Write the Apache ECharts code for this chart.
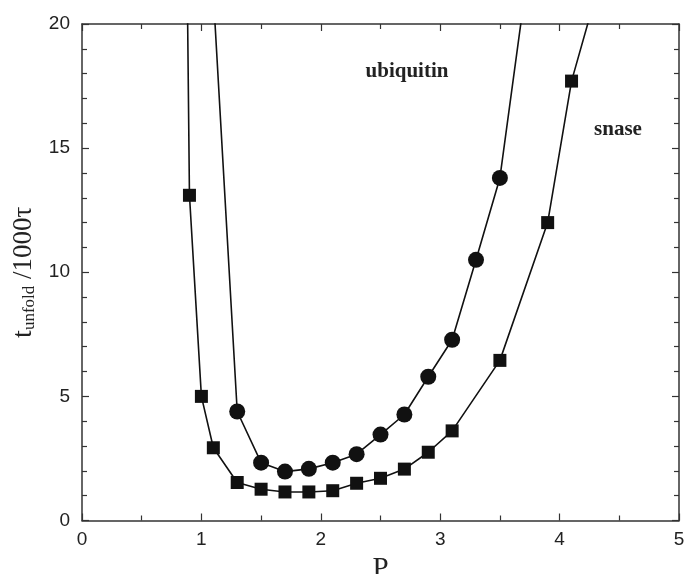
<!DOCTYPE html>
<html><head><meta charset="utf-8">
<script src="https://cdn.jsdelivr.net/npm/echarts@6/dist/echarts.min.js"></script>
<style>html,body{margin:0;padding:0;background:#fff}#c{width:685px;height:574px}</style>
</head><body><div id="c"></div>
<script>
// snase (squares); first and last points lie above the plotted range (line continues off-chart)
const snaseP = [0.8, 0.9, 1.0, 1.1, 1.3, 1.5, 1.7, 1.9, 2.1, 2.3, 2.5, 2.7, 2.9, 3.1, 3.5, 3.9, 4.1, 4.3];
const snaseT = [59, 13.1, 5.0, 2.93, 1.53, 1.26, 1.15, 1.15, 1.2, 1.5, 1.7, 2.07, 2.75, 3.61, 6.45, 12.0, 17.7, 21.1];
// ubiquitin (circles)
const ubiP = [1.1, 1.3, 1.5, 1.7, 1.9, 2.1, 2.3, 2.5, 2.7, 2.9, 3.1, 3.3, 3.5, 3.7];
const ubiT = [21.2, 4.39, 2.33, 1.97, 2.08, 2.33, 2.67, 3.46, 4.27, 5.79, 7.28, 10.5, 13.8, 20.9];
const xTicks = [0, 1, 2, 3, 4, 5];
const yTicks = [0, 5, 10, 15, 20];

function toData(xs, ys) {
  return xs.map((x, i) => ({ value: [x, ys[i]], symbolSize: ys[i] > 20 ? 0 : undefined }));
}

const chart = echarts.init(document.getElementById('c'));
const axisCol = '#333';
const tickFont = { fontFamily: 'Liberation Sans', fontSize: 19, color: '#222' };
const lineCommon = { onZero: false, lineStyle: { color: axisCol, width: 1.5 } };
const tickCommon = { inside: true, length: 7, lineStyle: { color: axisCol, width: 1.2 } };
chart.setOption({
  animation: false,
  grid: { left: 82, right: 6, top: 24, bottom: 53.5, outerBoundsMode: 'none', containLabel: false },
  xAxis: [
    { type: 'value', min: 0, max: 5, interval: 1,
      name: 'P', nameLocation: 'middle', nameGap: 28,
      nameTextStyle: { fontFamily: 'Liberation Serif', fontSize: 29, color: '#222' },
      axisLine: lineCommon, axisTick: tickCommon,
      minorTick: { show: true, splitNumber: 2, length: 5, lineStyle: { color: axisCol, width: 1.2 } },
      axisLabel: Object.assign({ margin: 10, formatter: v => xTicks.includes(v) ? String(v) : '' }, tickFont),
      splitLine: { show: false } },
    { type: 'value', min: 0, max: 5, interval: 1, position: 'top',
      axisLine: lineCommon, axisTick: tickCommon,
      minorTick: { show: true, splitNumber: 2, length: 5, lineStyle: { color: axisCol, width: 1.2 } },
      axisLabel: { show: false }, splitLine: { show: false } }
  ],
  yAxis: [
    { type: 'value', min: 0, max: 20, interval: 5,
      name: '{t|t}{s|unfold}{r| /1000τ}', nameLocation: 'middle', nameGap: 42, nameRotate: 90,
      nameTextStyle: { fontFamily: 'Liberation Serif', color: '#222',
        rich: {
          t: { fontFamily: 'Liberation Serif', fontSize: 28, color: '#222' },
          s: { fontFamily: 'Liberation Serif', fontSize: 17, color: '#222', verticalAlign: 'bottom', padding: [12, 0, 0, 0] },
          r: { fontFamily: 'Liberation Serif', fontSize: 27, color: '#222' }
        } },
      axisLine: lineCommon, axisTick: tickCommon,
      minorTick: { show: true, splitNumber: 5, length: 5, lineStyle: { color: axisCol, width: 1.2 } },
      axisLabel: Object.assign({ margin: 12, formatter: v => yTicks.includes(v) ? String(v) : '' }, tickFont),
      splitLine: { show: false } },
    { type: 'value', min: 0, max: 20, interval: 5, position: 'right',
      axisLine: lineCommon, axisTick: tickCommon,
      minorTick: { show: true, splitNumber: 5, length: 5, lineStyle: { color: axisCol, width: 1.2 } },
      axisLabel: { show: false }, splitLine: { show: false } }
  ],
  series: [
    { name: 'snase', type: 'line', data: toData(snaseP, snaseT), clip: true,
      symbol: 'rect', symbolSize: 13, showAllSymbol: true,
      lineStyle: { color: '#111', width: 1.6 }, itemStyle: { color: '#111' } },
    { name: 'ubiquitin', type: 'line', data: toData(ubiP, ubiT), clip: true,
      symbol: 'circle', symbolSize: 16, showAllSymbol: true,
      lineStyle: { color: '#111', width: 1.6 }, itemStyle: { color: '#111' } }
  ],
  graphic: [
    { type: 'text', x: 407, y: 72, style: { text: 'ubiquitin', align: 'center', verticalAlign: 'middle', fontFamily: 'Liberation Serif', fontWeight: 'bold', fontSize: 21, fill: '#222' } },
    { type: 'text', x: 618, y: 130, style: { text: 'snase', align: 'center', verticalAlign: 'middle', fontFamily: 'Liberation Serif', fontWeight: 'bold', fontSize: 21, fill: '#222' } }
  ]
});
</script></body></html>
